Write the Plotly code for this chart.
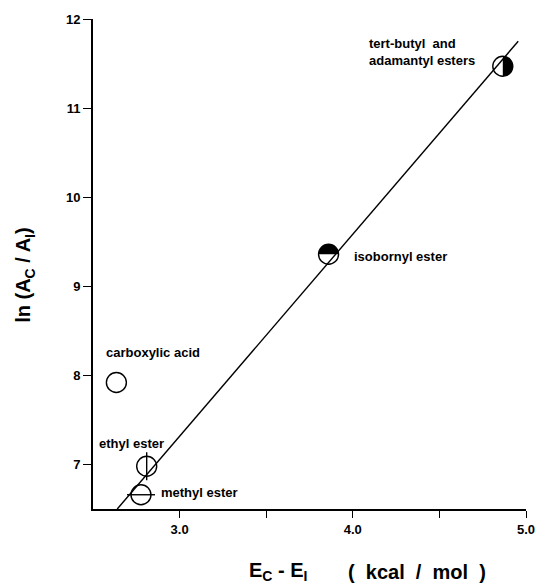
import plotly.graph_objects as go

# ---- data ----
compounds = ["carboxylic acid", "ethyl ester", "methyl ester", "isobornyl ester",
             "tert-butyl  and<br>adamantyl esters"]
delta_e = [2.635, 2.81, 2.777, 3.86, 4.866]          # E_C - E_I (kcal/mol)
ln_ratio = [7.92, 6.98, 6.66, 9.36, 11.47]           # ln(A_C/A_I)
marker_kind = ["open", "vbar", "hbar", "top", "right"]

fit_x = [2.64, 4.955]
fit_y = [6.5, 11.75]

x_tickvals = [3.0, 3.5, 4.0, 4.5, 5.0]
x_ticktext = ["3.0", "", "4.0", "", "5.0"]
y_tickvals = [7, 8, 9, 10, 11, 12]
y_ticktext = ["7", "8", "9", "10", "11", "12"]

FONT = "Liberation Sans, Arial, sans-serif"
R = 10
K = 5.523

fig = go.Figure()

# regression line
fig.add_trace(go.Scatter(x=fit_x, y=fit_y, mode="lines",
                         line=dict(color="black", width=1.4),
                         hoverinfo="skip", showlegend=False))

# circles
fig.add_trace(go.Scatter(x=delta_e, y=ln_ratio, mode="markers",
                         marker=dict(symbol="circle", size=2 * R,
                                     color="rgba(0,0,0,0)",
                                     line=dict(color="black", width=1.4)),
                         showlegend=False))

# vertical bar (ethyl) and horizontal bar (methyl)
vx = [x for x, k in zip(delta_e, marker_kind) if k == "vbar"]
vy = [y for y, k in zip(ln_ratio, marker_kind) if k == "vbar"]
hx = [x for x, k in zip(delta_e, marker_kind) if k == "hbar"]
hy = [y for y, k in zip(ln_ratio, marker_kind) if k == "hbar"]
fig.add_trace(go.Scatter(x=vx, y=vy, mode="markers",
                         marker=dict(symbol="line-ns", size=2 * R,
                                     line=dict(color="black", width=1.4)),
                         showlegend=False))
fig.add_trace(go.Scatter(x=hx, y=hy, mode="markers",
                         marker=dict(symbol="line-ew", size=2 * R,
                                     line=dict(color="black", width=1.4)),
                         showlegend=False))

half_paths = {
    "top": f"M {-R} 0 C {-R} {K} {-K} {R} 0 {R} C {K} {R} {R} {K} {R} 0 Z",
    "right": f"M 0 {-R} C {K} {-R} {R} {-K} {R} 0 C {R} {K} {K} {R} 0 {R} Z",
}
shapes = []
for x, y, k in zip(delta_e, ln_ratio, marker_kind):
    if k in half_paths:
        shapes.append(dict(type="path", xref="x", yref="y",
                           xsizemode="pixel", ysizemode="pixel",
                           xanchor=x, yanchor=y, path=half_paths[k],
                           fillcolor="black", line=dict(width=0),
                           layer="above"))

# label placement (styles)
label_pos = {
    "carboxylic acid": dict(xanchor="center", xshift=37, yshift=30, align="center"),
    "ethyl ester": dict(xanchor="center", xshift=-15, yshift=23, align="center"),
    "methyl ester": dict(xanchor="left", xshift=18, yshift=2, align="left"),
    "isobornyl ester": dict(xanchor="left", xshift=23, yshift=-2, align="left"),
    "tert-butyl  and<br>adamantyl esters": dict(xanchor="right", xshift=-26, yshift=14, align="left"),
}
annotations = []
for name, x, y in zip(compounds, delta_e, ln_ratio):
    p = label_pos[name]
    annotations.append(dict(x=x, y=y, xref="x", yref="y", text=f"<b>{name}</b>",
                            showarrow=False, yanchor="middle",
                            font=dict(family=FONT, size=13, color="black"), **p))

# axis titles
annotations.append(dict(x=-0.158, y=0.477, xref="paper", yref="paper",
                        xanchor="center", yanchor="middle", showarrow=False,
                        text="<b>ln (A<sub>C</sub> / A<sub>I</sub>)</b>", textangle=-90,
                        font=dict(family=FONT, size=20, color="black")))
annotations.append(dict(x=0.498, y=-0.128, xref="paper", yref="paper",
                        xanchor="right", yanchor="middle", showarrow=False,
                        text="<b>E<sub>C</sub> - E<sub>I</sub></b>",
                        font=dict(family=FONT, size=20, color="black")))
annotations.append(dict(x=0.584, y=-0.128, xref="paper", yref="paper",
                        xanchor="left", yanchor="middle", showarrow=False,
                        text="<b>(&nbsp;&nbsp;kcal&nbsp;&nbsp;/&nbsp;&nbsp;mol&nbsp;&nbsp;)</b>",
                        font=dict(family=FONT, size=20, color="black")))

fig.update_layout(
    width=547, height=584,
    margin=dict(l=93, r=14, t=18, b=75),
    paper_bgcolor="white", plot_bgcolor="white",
    shapes=shapes, annotations=annotations,
    font=dict(family=FONT, color="black"),
    xaxis=dict(range=[2.5, 5.0], tickvals=x_tickvals, ticktext=x_ticktext,
               ticks="outside", ticklen=7, tickwidth=1.4, tickcolor="black",
               showline=True, linecolor="black", linewidth=1.8,
               showgrid=False, zeroline=False,
               tickfont=dict(family=FONT, size=13, color="black", weight="bold")),
    yaxis=dict(range=[6.5, 12], tickvals=y_tickvals, ticktext=y_ticktext,
               ticks="outside", ticklen=8, tickwidth=1.4, tickcolor="black",
               showline=True, linecolor="black", linewidth=1.8,
               showgrid=False, zeroline=False,
               tickfont=dict(family=FONT, size=13, color="black", weight="bold")),
)

fig.write_html("out.html")
